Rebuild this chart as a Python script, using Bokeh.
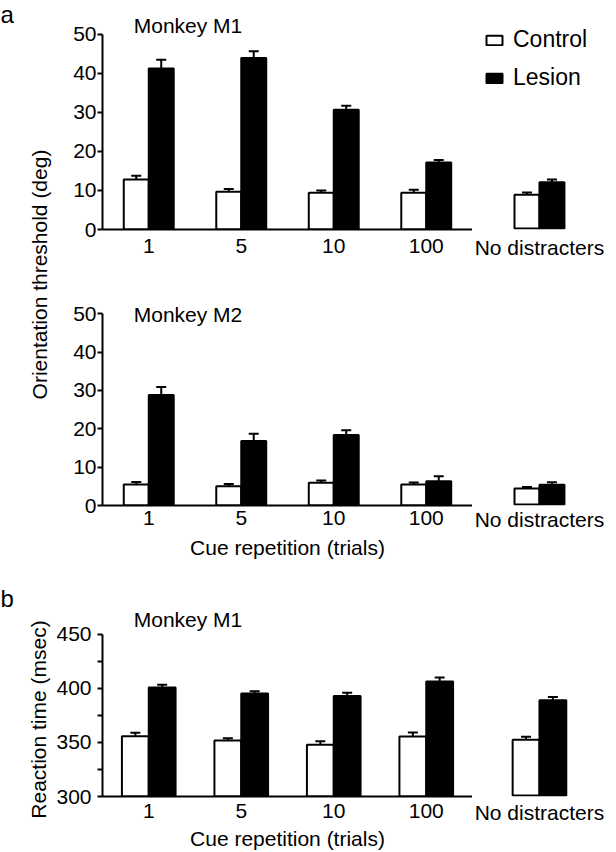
from bokeh.plotting import figure
from bokeh.models import (Range1d, FixedTicker, ColumnDataSource, Whisker, TeeHead,
                          Legend, LegendItem, Label, Plot)
from bokeh.layouts import column, row
from bokeh.embed import file_html
from bokeh.resources import INLINE
import math

# ---------------- data ----------------
categories = ["1", "5", "10", "100", "No distracters"]

# Panel a, Monkey M1 - orientation threshold (deg)
m1_thr_control = [12.8, 9.7, 9.4, 9.4, 8.7]
m1_thr_control_err = [1.0, 0.7, 0.6, 0.8, 0.6]
m1_thr_lesion = [41.3, 44.0, 30.7, 17.2, 11.9]
m1_thr_lesion_err = [2.2, 1.7, 1.0, 0.6, 0.7]

# Panel a, Monkey M2 - orientation threshold (deg)
m2_thr_control = [5.5, 5.0, 5.9, 5.5, 4.2]
m2_thr_control_err = [0.6, 0.6, 0.6, 0.5, 0.4]
m2_thr_lesion = [28.8, 16.8, 18.4, 6.3, 5.2]
m2_thr_lesion_err = [2.1, 1.9, 1.2, 1.3, 0.6]

# Panel b, Monkey M1 - reaction time (msec)
m1_rt_control = [355.7, 351.7, 347.7, 355.4, 351.7]
m1_rt_control_err = [3.1, 2.1, 3.4, 3.6, 2.8]
m1_rt_lesion = [400.6, 395.1, 392.7, 406.2, 388.4]
m1_rt_lesion_err = [2.5, 2.2, 3.1, 3.7, 3.1]

thr_ticks = [0, 10, 20, 30, 40, 50]
rt_ticks = [300, 325, 350, 375, 400, 425, 450]
rt_tick_labels = {300: "300", 325: "", 350: "350", 375: "", 400: "400", 425: "", 450: "450"}

# ---------------- layout helpers ----------------
FONT = "Liberation Sans"
PX = 92.5                      # pixels per category step
SIDE_W, MAIN_W, ND_W = 53, 419, 144
B_LEFT = 49
MAIN_RANGE = (0.5, 0.5 + (MAIN_W - B_LEFT) / PX)
ND_RANGE = (MAIN_RANGE[1], MAIN_RANGE[1] + ND_W / PX)
positions = [float(i + 1) for i in range(len(categories) - 1)] + [round(MAIN_RANGE[1] + 67 / PX, 3)]


def style_text_axis(ax, standoff):
    ax.major_label_standoff = standoff
    ax.major_label_text_font = FONT
    ax.major_label_text_font_size = "21px"
    ax.major_label_text_color = "black"
    ax.minor_tick_line_color = None


def add_bars(p, idx, control, control_err, lesion, lesion_err, bar_w, y_base):
    xs = [positions[i] for i in idx]
    src_c = ColumnDataSource(dict(x=[x - bar_w / 2 for x in xs], top=[control[i] for i in idx],
                                  upper=[control[i] + control_err[i] for i in idx]))
    src_l = ColumnDataSource(dict(x=[x + bar_w / 2 for x in xs], top=[lesion[i] for i in idx],
                                  upper=[lesion[i] + lesion_err[i] for i in idx]))
    rc = p.vbar(x="x", top="top", bottom=y_base, width=bar_w, source=src_c,
                fill_color="white", line_color="black", line_width=2)
    rl = p.vbar(x="x", top="top", bottom=y_base, width=bar_w, source=src_l,
                fill_color="black", line_color="black", line_width=2)
    for src in (src_c, src_l):
        p.add_layout(Whisker(source=src, base="x", upper="upper", lower="top",
                             upper_head=TeeHead(size=10, line_width=2, line_color="black"),
                             lower_head=None, line_width=2, line_color="black",
                             level="overlay"))
    return rc, rl


def make_panel(height, b_top, b_bottom, y_base, y_axis_top, y_end, y_ticks, y_overrides,
               control, control_err, lesion, lesion_err, bar_w, x_standoff, y_standoff,
               title, title_dy, xlabel=None, xlabel_standoff=0):
    frame_h = height - b_top - b_bottom
    scale = frame_h / (y_end - y_base)
    # ---- main part: cue repetition groups ----
    p = figure(width=MAIN_W, height=height, x_range=Range1d(*MAIN_RANGE),
               y_range=Range1d(y_base, y_end), output_backend="svg",
               toolbar_location=None, min_border_left=B_LEFT, min_border_right=0,
               min_border_top=b_top, min_border_bottom=b_bottom)
    p.grid.visible = False
    p.outline_line_color = None
    add_bars(p, range(len(categories) - 1), control, control_err, lesion,
             lesion_err, bar_w, y_base)

    ya = p.yaxis[0]
    ya.ticker = FixedTicker(ticks=y_ticks)
    if y_overrides:
        ya.major_label_overrides = y_overrides
    ya.bounds = (y_base, y_axis_top)
    ya.axis_line_width = 2
    ya.major_tick_line_width = 2
    ya.major_tick_out = 5
    ya.major_tick_in = 0
    style_text_axis(ya, y_standoff)

    xa = p.xaxis[0]
    xa.ticker = FixedTicker(ticks=positions[:-1])
    xa.major_label_overrides = {pos: cat for pos, cat in zip(positions[:-1], categories[:-1])}
    xa.axis_line_width = 2
    xa.major_tick_line_color = None
    style_text_axis(xa, x_standoff)
    if xlabel:
        xa.axis_label = xlabel
        xa.axis_label_text_font = FONT
        xa.axis_label_text_font_size = "21px"
        xa.axis_label_text_font_style = "normal"
        xa.axis_label_text_color = "black"
        xa.axis_label_standoff = xlabel_standoff

    p.add_layout(Label(x=positions[0], y=y_axis_top, x_offset=-15, y_offset=title_dy,
                       text=title, text_font=FONT, text_font_size="21px",
                       text_color="black", text_baseline="alphabetic"))

    # ---- "No distracters" part (no y axis, no x axis line) ----
    q = figure(width=ND_W, height=height, x_range=Range1d(*ND_RANGE),
               y_range=Range1d(y_base - 1 / scale, y_end), output_backend="svg",
               toolbar_location=None, y_axis_location=None, min_border_left=0,
               min_border_right=0, min_border_top=b_top, min_border_bottom=b_bottom - 1)
    q.grid.visible = False
    q.outline_line_color = None
    rc, rl = add_bars(q, [len(categories) - 1], control, control_err, lesion, lesion_err,
                      bar_w, y_base)
    qa = q.xaxis[0]
    qa.ticker = FixedTicker(ticks=positions[-1:])
    qa.major_label_overrides = {positions[-1]: categories[-1]}
    qa.axis_line_color = None
    qa.major_tick_line_color = None
    style_text_axis(qa, x_standoff - 3)
    return p, q, rc, rl


p1, q1, rc1, rl1 = make_panel(279, 12, 50, 0, 50, 55.64, thr_ticks, None,
                              m1_thr_control, m1_thr_control_err, m1_thr_lesion,
                              m1_thr_lesion_err, 0.27, 3, 1, "Monkey M1", 9)
legend = Legend(items=[LegendItem(label="Control", renderers=[rc1]),
                       LegendItem(label="Lesion", renderers=[rl1])],
                location=(12, 138), glyph_width=20, glyph_height=12, label_standoff=9,
                spacing=11, padding=0, margin=0, border_line_color=None,
                background_fill_alpha=0, label_text_font=FONT,
                label_text_font_size="23px", label_text_color="black")
q1.add_layout(legend)

p2, q2, _, _ = make_panel(286, 20, 60, 0, 50, 53.69, thr_ticks, None,
                          m2_thr_control, m2_thr_control_err, m2_thr_lesion,
                          m2_thr_lesion_err, 0.27, -1, 1, "Monkey M2", -1,
                          "Cue repetition (trials)", 8)

p3, q3, _, _ = make_panel(287, 35, 55, 300, 450, 481.0, rt_ticks, rt_tick_labels,
                          m1_rt_control, m1_rt_control_err, m1_rt_lesion,
                          m1_rt_lesion_err, 0.29, 1, 6, "Monkey M1", 15,
                          "Cue repetition (trials)", 6)

# left strip: panel letters and the rotated y-axis titles
H = 279 + 286 + 287
side = Plot(width=SIDE_W, height=H, x_range=Range1d(0, SIDE_W), y_range=Range1d(0, H),
            min_border=0, outline_line_color=None, toolbar_location=None,
            output_backend="svg")
for txt, ty in (("a", H - 14), ("b", H - 598)):
    side.add_layout(Label(x=0, y=ty, text=txt, text_font=FONT, text_font_size="24px",
                          text_color="black", text_baseline="alphabetic"))
for txt, tx, ty in (("Orientation threshold (deg)", 39, H - 274),
                    ("Reaction time (msec)", 38, H - 719)):
    side.add_layout(Label(x=tx, y=ty, text=txt, angle=math.pi / 2, text_font=FONT,
                          text_font_size="21px", text_color="black",
                          text_align="center", text_baseline="middle"))

layout = row(side, column(row(p1, q1, spacing=0), row(p2, q2, spacing=0),
                          row(p3, q3, spacing=0), spacing=0), spacing=0)

open("out.html", "w").write(file_html(layout, INLINE))
